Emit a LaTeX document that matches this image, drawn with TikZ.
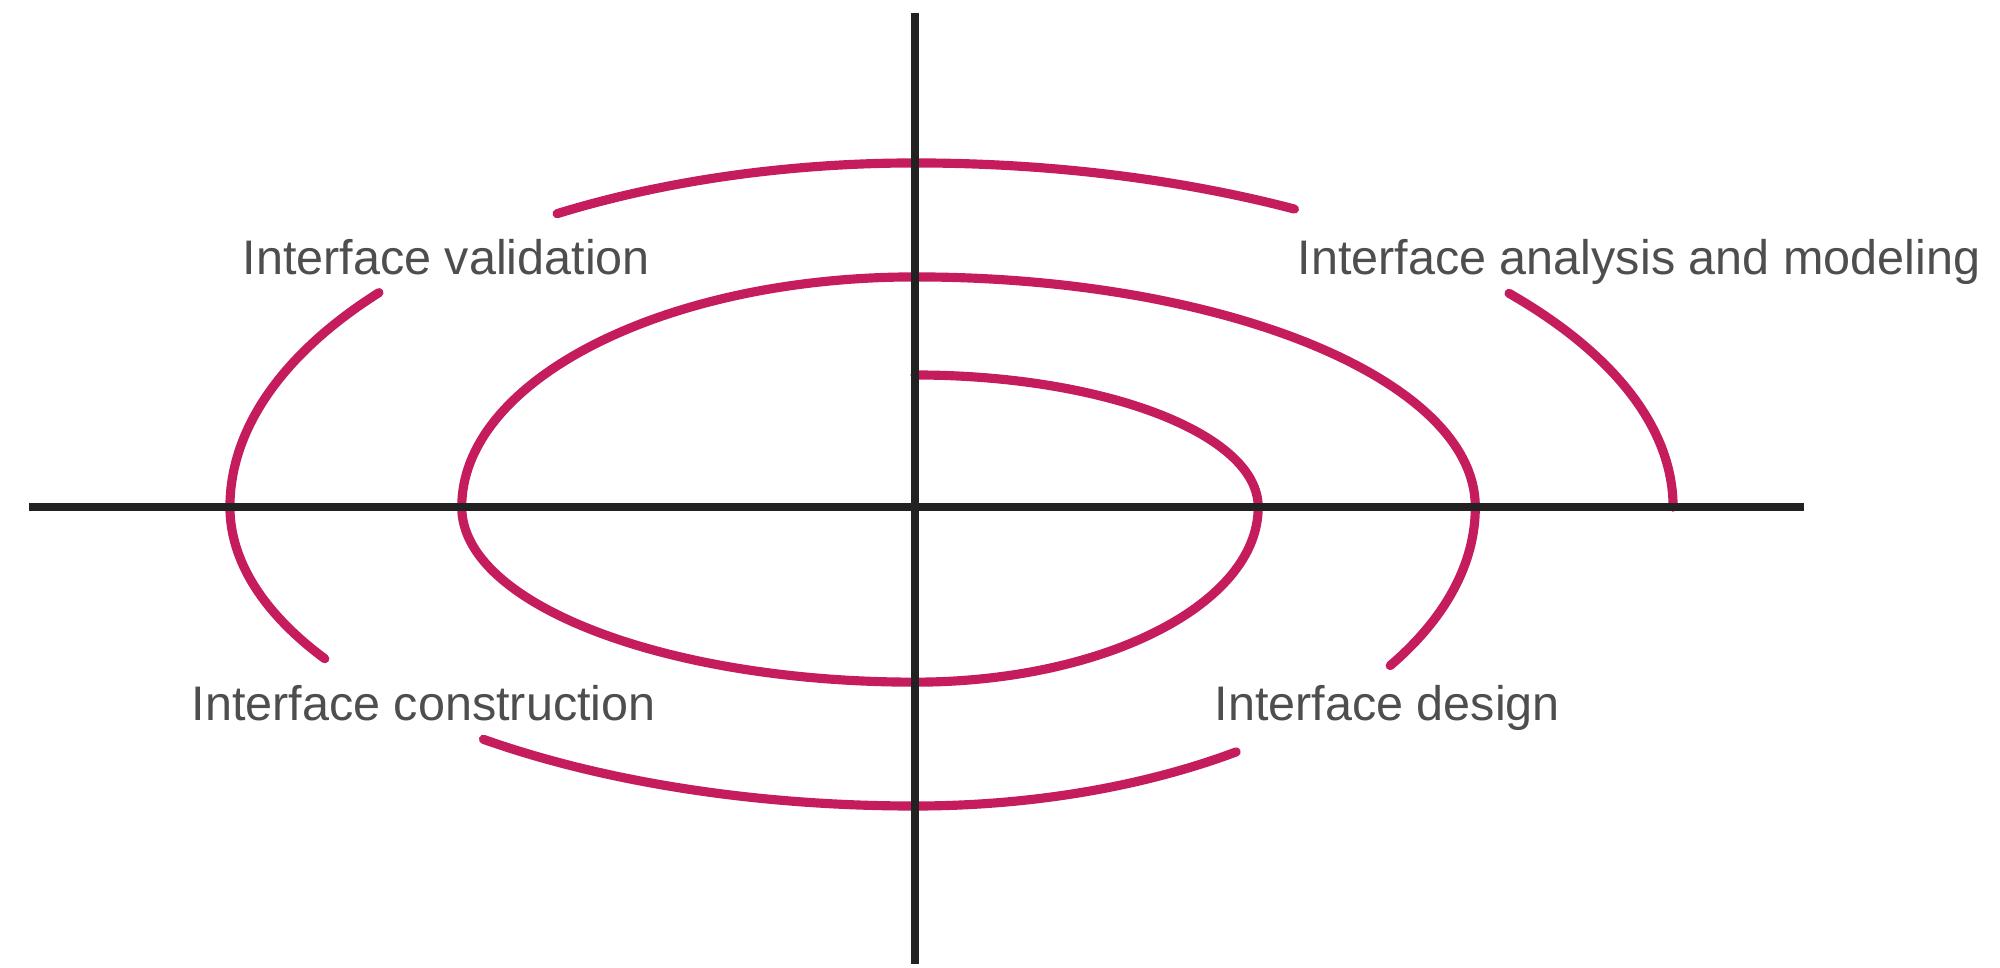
\documentclass[tikz,border=0pt]{standalone}
\usepackage{fontspec}
\setmainfont{Liberation Sans}
\definecolor{spiralc}{RGB}{196,28,92}
\definecolor{axisc}{RGB}{34,34,34}
\definecolor{labelc}{RGB}{78,78,78}
\begin{document}
\begin{tikzpicture}[x=0.01cm,y=0.01cm,
  axisline/.style={draw=axisc,line width=2.4pt},
  spiralline/.style={draw=spiralc,line width=2.6pt,line cap=round},
  phase/.style={anchor=base west,inner sep=0pt,text=labelc,font=\fontsize{13.8}{16}\selectfont}]
\useasboundingbox (-915,-461) rectangle (1085,507);
% spiral
\draw[spiralline] (0,132)
  arc[start angle=90,end angle=0,x radius=3.43cm,y radius=1.32cm]
  arc[start angle=0,end angle=-90,x radius=3.43cm,y radius=1.75cm]
  arc[start angle=-90,end angle=-180,x radius=4.53cm,y radius=1.75cm]
  arc[start angle=180,end angle=90,x radius=4.53cm,y radius=2.30cm]
  arc[start angle=90,end angle=0,x radius=5.60cm,y radius=2.30cm]
  arc[start angle=0,end angle=-32,x radius=5.60cm,y radius=2.99cm];
\draw[spiralline] ({560*cos(-55)},{299*sin(-55)})
  arc[start angle=-55,end angle=-90,x radius=5.60cm,y radius=2.99cm]
  arc[start angle=-90,end angle=-129,x radius=6.85cm,y radius=2.99cm];
\draw[spiralline] ({685*cos(-149.5)},{299*sin(-149.5)})
  arc[start angle=-149.5,end angle=-180,x radius=6.85cm,y radius=2.99cm]
  arc[start angle=180,end angle=141.5,x radius=6.85cm,y radius=3.44cm];
\draw[spiralline] ({685*cos(121.5)},{344*sin(121.5)})
  arc[start angle=121.5,end angle=90,x radius=6.85cm,y radius=3.44cm]
  arc[start angle=90,end angle=60,x radius=7.58cm,y radius=3.44cm];
\draw[spiralline] ({758*cos(38.4)},{344*sin(38.4)})
  arc[start angle=38.4,end angle=0,x radius=7.58cm,y radius=3.44cm];
% axes
\coordinate (top) at (0,494);
\coordinate (bottom) at (0,-457);
\coordinate (left) at (-886,0);
\coordinate (right) at (889,0);
\draw[axisline] (left) -- (right);
\draw[axisline] (top) -- (bottom);
% labels
\node[phase] (val) at (-673,232) {Interface validation};
\node[phase] (ana) at (382,232) {Interface analysis and modeling};
\node[phase] (con) at (-724,-214) {Interface construction};
\node[phase] (des) at (299,-214) {Interface design};
\end{tikzpicture}
\end{document}
